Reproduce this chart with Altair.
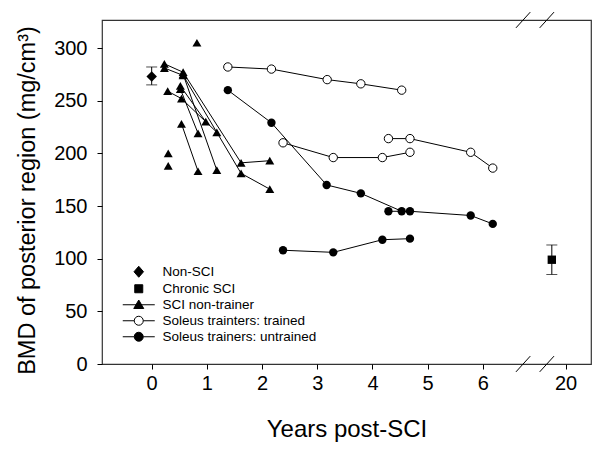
import altair as alt
import pandas as pd

FONT = "Liberation Sans"

# ---- SCI non-trainers (triangles) ----
nt_subject = ["S1"] * 4 + ["S2"] * 4 + ["S3"] * 2 + ["S4"] * 2 + ["S5"] * 3 + ["S6"] * 2 + ["S7"] * 2 + ["S8", "S9", "S10"]
nt_year = [0.23, 0.57, 1.62, 2.14,
           0.23, 0.57, 1.62, 2.14,
           0.57, 1.18,
           0.52, 0.98,
           0.29, 0.54, 1.18,
           0.52, 0.84,
           0.54, 0.84,
           0.82, 0.30, 0.30]
nt_bmd = [285, 277, 191, 193,
          281, 274, 181, 166,
          275, 184,
          264, 230,
          259, 252, 220,
          261, 219,
          228, 183,
          305, 200, 188]

# ---- Soleus trainers: trained limb (open circles) ----
tr_subject = ["T1"] * 5 + ["T2"] * 4 + ["T3"] * 4
tr_year = [1.38, 2.17, 3.18, 3.79, 4.53,
           2.38, 3.29, 4.18, 4.68,
           4.29, 4.68, 5.78, 6.18]
tr_bmd = [282, 280, 270, 266, 260,
          210, 196, 196, 201,
          214, 214, 201, 186]

# ---- Soleus trainers: untrained limb (filled circles) ----
un_subject = ["U1"] * 5 + ["U2"] * 4 + ["U3"] * 4
un_year = [1.38, 2.17, 3.17, 3.79, 4.53,
           2.38, 3.29, 4.18, 4.68,
           4.29, 4.68, 5.78, 6.18]
un_bmd = [260, 229, 170, 162, 145,
          108, 106, 118, 119,
          145, 145, 141, 133]

# ---- group means with error bars ----
grp_name = ["Non-SCI", "Chronic SCI"]
grp_year = [0.0, 19.5]
grp_mean = [273, 99]
grp_lo = [265, 85]
grp_hi = [282, 113]

legend_labels = ["Non-SCI", "Chronic SCI", "SCI non-trainer",
                 "Soleus trainters: trained", "Soleus trainers: untrained"]

x_ticks = [0, 1, 2, 3, 4, 5, 6, 20]


def xpos(year):
    # broken axis: 0..~6.9 linear, then 20 placed at 7.5
    return year if year < 10 else 7.5 + (year - 20) * 0.5


def frame(subject, year, bmd, series):
    return pd.DataFrame({"subject": subject, "year": year, "bmd": bmd,
                         "xpos": [xpos(v) for v in year], "series": series})


nt = frame(nt_subject, nt_year, nt_bmd, "SCI non-trainer")
tr = frame(tr_subject, tr_year, tr_bmd, "trained")
un = frame(un_subject, un_year, un_bmd, "untrained")
lines_df = pd.concat([nt, tr, un], ignore_index=True)

grp = pd.DataFrame({"name": grp_name, "year": grp_year, "bmd": grp_mean,
                    "lo": grp_lo, "hi": grp_hi,
                    "xpos": [xpos(v) for v in grp_year]})

XDOM = [-0.9, 7.96]
YDOM = [0, 326.6]

x_axis = alt.Axis(values=[xpos(v) for v in x_ticks], labelExpr="datum.value == 7.5 ? '20' : datum.label",
                  title="Years post-SCI", grid=False, tickSize=5, labelPadding=4,
                  titlePadding=24, titleFontSize=24, domain=False)
y_axis = alt.Axis(values=[0, 50, 100, 150, 200, 250, 300], title="BMD of posterior region (mg/cm³)",
                  grid=False, tickSize=5, labelPadding=10, titlePadding=14, titleFontSize=23.5,
                  titleY=180, domain=False)


def X(field="xpos"):
    return alt.X(f"{field}:Q", scale=alt.Scale(domain=XDOM, nice=False, zero=False), axis=x_axis)


def Y(field="bmd"):
    return alt.Y(f"{field}:Q", scale=alt.Scale(domain=YDOM, nice=False, zero=False), axis=y_axis)


lines = alt.Chart(lines_df).mark_line(color="black", strokeWidth=1).encode(
    x=X(), y=Y(), detail="subject:N", order="year:Q")

tri = alt.Chart(nt).mark_point(shape="triangle-up", filled=True, color="black", size=80, opacity=1).encode(
    x=X(), y=Y())
open_c = alt.Chart(tr).mark_point(shape="circle", filled=True, fill="white", stroke="black",
                                  strokeWidth=1, size=70, opacity=1).encode(x=X(), y=Y())
fill_c = alt.Chart(un).mark_point(shape="circle", filled=True, color="black", size=70, opacity=1).encode(
    x=X(), y=Y())

err = alt.Chart(grp).mark_rule(color="black", strokeWidth=1).encode(x=X(), y=Y("lo"), y2="hi:Q")
cap_lo = alt.Chart(grp).mark_tick(orient="horizontal", size=11, thickness=1, color="black").encode(x=X(), y=Y("lo"))
cap_hi = alt.Chart(grp).mark_tick(orient="horizontal", size=11, thickness=1, color="black").encode(x=X(), y=Y("hi"))
diamond = alt.Chart(grp[grp.name == "Non-SCI"]).mark_point(shape="diamond", filled=True, color="black",
                                                           size=110, opacity=1).encode(x=X(), y=Y())
square = alt.Chart(grp[grp.name == "Chronic SCI"]).mark_point(shape="square", filled=True, color="black",
                                                              size=70, opacity=1).encode(x=X(), y=Y())

# axis-break slashes
brk_centers = [6.73, 7.16]
brk = pd.DataFrame({
    "x": [c - 0.13 for c in brk_centers] * 2,
    "x2": [c + 0.13 for c in brk_centers] * 2,
    "y": [YDOM[0] - 7.5] * 2 + [YDOM[1] - 7.5] * 2,
    "y2": [YDOM[0] + 7.5] * 2 + [YDOM[1] + 7.5] * 2,
})
breaks = alt.Chart(brk).mark_rule(color="black", strokeWidth=1).encode(
    x=X("x"), x2="x2:Q", y=Y("y"), y2="y2:Q")

# legend (symbols drawn as custom paths incl. the line segment)
line_seg = "M-3.2,0H-0.9M0.9,0H3.2"
circ = "M0.9,0A0.9,0.9,0,1,1,-0.9,0A0.9,0.9,0,1,1,0.9,0Z"
paths = [
    "M0,-1.1L0.95,0L0,1.1L-0.95,0Z",
    "M-0.8,-0.8H0.8V0.8H-0.8Z",
    "M-3.2,0H3.2M0,-0.95L1,0.75L-1,0.75Z",
    line_seg + circ,
    line_seg + circ,
]
fills = ["black", "black", "black", "white", "black"]
strokes = ["black"] * 5
leg_df = pd.DataFrame({"series": legend_labels, "xpos": [0.0] * 5, "bmd": [0.0] * 5})
leg_cfg = dict(title=None, orient="none", legendX=30, legendY=245, labelFont=FONT, labelFontSize=13.5,
               labelColor="black", symbolSize=100, symbolStrokeWidth=1, symbolStrokeColor="black",
               symbolOpacity=1, labelOffset=17, rowPadding=1.0, padding=0)
legend_layer = alt.Chart(leg_df).mark_point(opacity=0, strokeWidth=1, size=100).encode(
    x=X(), y=Y(),
    shape=alt.Shape("series:N", scale=alt.Scale(domain=legend_labels, range=paths), legend=alt.Legend(**leg_cfg)),
    fill=alt.Fill("series:N", scale=alt.Scale(domain=legend_labels, range=fills), legend=alt.Legend(**leg_cfg)),
    stroke=alt.Stroke("series:N", scale=alt.Scale(domain=legend_labels, range=strokes), legend=alt.Legend(**leg_cfg)),
)

chart = alt.layer(legend_layer, lines, err, cap_lo, cap_hi, tri, open_c, fill_c, diamond, square, breaks).properties(
    width=489, height=344,
    background="white",
    autosize=alt.AutoSizeParams(type="none"),
    padding={"left": 94, "top": 12, "right": 1, "bottom": 80},
).configure_view(stroke="#333333", strokeWidth=1.2).configure_axis(
    labelFont=FONT, titleFont=FONT, labelFontSize=20, labelColor="black",
    titleColor="black", tickColor="black", titleFontWeight="normal",
)

chart.save("out.html", embed_options={"renderer": "svg", "actions": False})
